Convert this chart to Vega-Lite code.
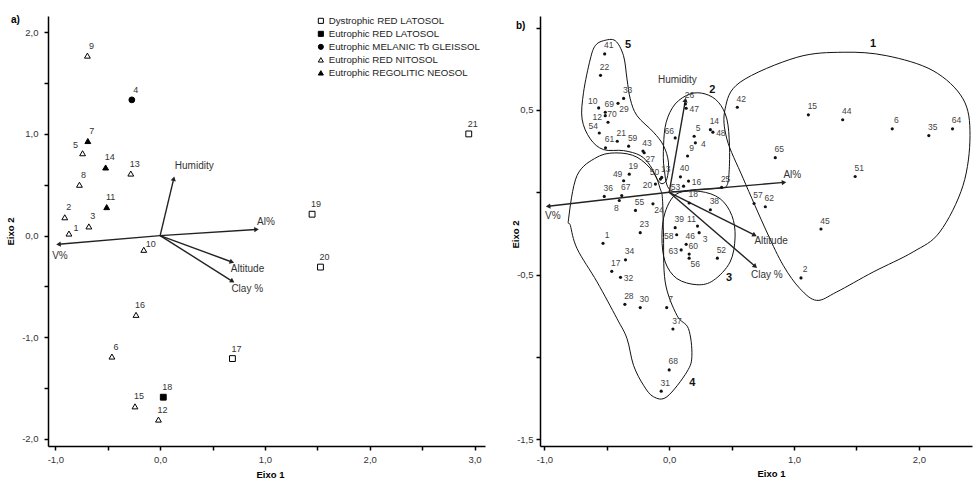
{
  "$schema": "https://vega.github.io/schema/vega-lite/v6.json",
  "background": "white",
  "padding": {"left": 5, "top": 15, "right": 0, "bottom": 0},
  "bounds": "flush",
  "spacing": 55,
  "config": {
    "view": {"stroke": null},
    "axis": {"grid": false, "domainColor": "#000", "domainWidth": 1.5, "tickColor": "#000", "tickWidth": 1.5, "tickSize": 4, "labelFont": "Liberation Sans", "labelFontSize": 9.5, "labelColor": "#333", "labelPadding": 4, "titleFont": "Liberation Sans", "titleFontSize": 9.5, "titleFontWeight": "bold", "titleColor": "#000"}
  },
  "datasets": {
    "left": [
      {"id": 1, "x": -0.87, "y": 0.02, "type": "Eutrophic RED NITOSOL"},
      {"id": 2, "x": -0.91, "y": 0.18, "type": "Eutrophic RED NITOSOL"},
      {"id": 3, "x": -0.68, "y": 0.09, "type": "Eutrophic RED NITOSOL"},
      {"id": 4, "x": -0.27, "y": 1.335, "type": "Eutrophic MELANIC Tb GLEISSOL"},
      {"id": 5, "x": -0.74, "y": 0.81, "type": "Eutrophic RED NITOSOL"},
      {"id": 6, "x": -0.46, "y": -1.19, "type": "Eutrophic RED NITOSOL"},
      {"id": 7, "x": -0.69, "y": 0.93, "type": "Eutrophic REGOLITIC NEOSOL"},
      {"id": 8, "x": -0.77, "y": 0.5, "type": "Eutrophic RED NITOSOL"},
      {"id": 9, "x": -0.694, "y": 1.77, "type": "Eutrophic RED NITOSOL"},
      {"id": 10, "x": -0.156, "y": -0.14, "type": "Eutrophic RED NITOSOL"},
      {"id": 11, "x": -0.51, "y": 0.28, "type": "Eutrophic REGOLITIC NEOSOL"},
      {"id": 12, "x": -0.016, "y": -1.81, "type": "Eutrophic RED NITOSOL"},
      {"id": 13, "x": -0.28, "y": 0.61, "type": "Eutrophic RED NITOSOL"},
      {"id": 14, "x": -0.52, "y": 0.67, "type": "Eutrophic REGOLITIC NEOSOL"},
      {"id": 15, "x": -0.24, "y": -1.68, "type": "Eutrophic RED NITOSOL"},
      {"id": 16, "x": -0.23, "y": -0.78, "type": "Eutrophic RED NITOSOL"},
      {"id": 17, "x": 0.69, "y": -1.21, "type": "Dystrophic RED LATOSOL"},
      {"id": 18, "x": 0.03, "y": -1.59, "type": "Eutrophic RED LATOSOL"},
      {"id": 19, "x": 1.45, "y": 0.21, "type": "Dystrophic RED LATOSOL"},
      {"id": 20, "x": 1.53, "y": -0.31, "type": "Dystrophic RED LATOSOL"},
      {"id": 21, "x": 2.945, "y": 1.0, "type": "Dystrophic RED LATOSOL"}
    ],
    "right": [
      {"id": 1, "x": -0.53, "y": -0.31}, {"id": 2, "x": 1.056, "y": -0.52}, {"id": 3, "x": 0.24, "y": -0.245},
      {"id": 4, "x": 0.21, "y": 0.3}, {"id": 5, "x": 0.2, "y": 0.34}, {"id": 6, "x": 1.787, "y": 0.385},
      {"id": 7, "x": -0.02, "y": -0.7}, {"id": 8, "x": -0.4, "y": -0.05}, {"id": 9, "x": 0.147, "y": 0.22},
      {"id": 10, "x": -0.565, "y": 0.512}, {"id": 11, "x": 0.227, "y": -0.205}, {"id": 12, "x": -0.512, "y": 0.465},
      {"id": 13, "x": -0.06, "y": 0.09}, {"id": 14, "x": 0.33, "y": 0.38}, {"id": 15, "x": 1.115, "y": 0.47},
      {"id": 16, "x": 0.155, "y": 0.068}, {"id": 17, "x": -0.46, "y": -0.48}, {"id": 18, "x": 0.16, "y": -0.065},
      {"id": 19, "x": -0.32, "y": 0.11}, {"id": 20, "x": -0.11, "y": 0.05}, {"id": 21, "x": -0.416, "y": 0.31},
      {"id": 22, "x": -0.55, "y": 0.71}, {"id": 23, "x": -0.232, "y": -0.245}, {"id": 24, "x": -0.13, "y": -0.07},
      {"id": 25, "x": 0.42, "y": 0.03}, {"id": 26, "x": 0.13, "y": 0.536}, {"id": 27, "x": -0.2, "y": 0.24},
      {"id": 28, "x": -0.355, "y": -0.68}, {"id": 29, "x": -0.41, "y": 0.54}, {"id": 30, "x": -0.232, "y": -0.7},
      {"id": 31, "x": -0.064, "y": -1.207}, {"id": 32, "x": -0.39, "y": -0.516}, {"id": 33, "x": -0.365, "y": 0.57},
      {"id": 34, "x": -0.35, "y": -0.41}, {"id": 35, "x": 2.08, "y": 0.344}, {"id": 36, "x": -0.52, "y": -0.025},
      {"id": 37, "x": 0.03, "y": -0.83}, {"id": 38, "x": 0.33, "y": -0.106}, {"id": 39, "x": 0.048, "y": -0.215},
      {"id": 40, "x": 0.09, "y": 0.094}, {"id": 41, "x": -0.517, "y": 0.84}, {"id": 42, "x": 0.546, "y": 0.516},
      {"id": 43, "x": -0.21, "y": 0.25}, {"id": 44, "x": 1.39, "y": 0.44}, {"id": 45, "x": 1.216, "y": -0.223},
      {"id": 46, "x": 0.136, "y": -0.316}, {"id": 47, "x": 0.136, "y": 0.51}, {"id": 48, "x": 0.35, "y": 0.365},
      {"id": 49, "x": -0.365, "y": 0.07}, {"id": 50, "x": -0.07, "y": 0.08}, {"id": 51, "x": 1.49, "y": 0.096},
      {"id": 52, "x": 0.386, "y": -0.4}, {"id": 53, "x": 0.115, "y": 0.037}, {"id": 54, "x": -0.56, "y": 0.36},
      {"id": 55, "x": -0.27, "y": -0.11}, {"id": 56, "x": 0.16, "y": -0.4}, {"id": 57, "x": 0.68, "y": -0.068},
      {"id": 58, "x": 0.06, "y": -0.258}, {"id": 59, "x": -0.325, "y": 0.28}, {"id": 60, "x": 0.16, "y": -0.375},
      {"id": 61, "x": -0.51, "y": 0.27}, {"id": 62, "x": 0.77, "y": -0.088}, {"id": 63, "x": 0.096, "y": -0.35},
      {"id": 64, "x": 2.27, "y": 0.385}, {"id": 65, "x": 0.85, "y": 0.21}, {"id": 66, "x": 0.048, "y": 0.33},
      {"id": 67, "x": -0.38, "y": -0.02}, {"id": 68, "x": 0.0, "y": -1.078}, {"id": 69, "x": -0.512, "y": 0.486},
      {"id": 70, "x": -0.49, "y": 0.425}
    ],
    "arrows": [
      {"lab": "Humidity", "x": 0.13, "y": 0.56},
      {"lab": "Al%", "x": 0.92, "y": 0.06},
      {"lab": "V%", "x": -0.97, "y": -0.085},
      {"lab": "Altitude", "x": 0.685, "y": -0.26},
      {"lab": "Clay %", "x": 0.69, "y": -0.45}
    ],
    "arrowlabL": [
      {"lab": "Humidity", "x": 0.14, "y": 0.68},
      {"lab": "Al%", "x": 0.925, "y": 0.136},
      {"lab": "V%", "x": -1.03, "y": -0.2},
      {"lab": "Altitude", "x": 0.675, "y": -0.33},
      {"lab": "Clay %", "x": 0.68, "y": -0.53}
    ],
    "arrowlabR": [
      {"lab": "Humidity", "x": -0.09, "y": 0.684},
      {"lab": "Al%", "x": 0.915, "y": 0.102},
      {"lab": "V%", "x": -0.994, "y": -0.144},
      {"lab": "Altitude", "x": 0.683, "y": -0.296},
      {"lab": "Clay %", "x": 0.656, "y": -0.5}
    ],
    "clusters": [
      {"cluster": 1, "ord": 1, "x": 0.448, "y": 0.506},
      {"cluster": 1, "ord": 2, "x": 0.568, "y": 0.668},
      {"cluster": 1, "ord": 3, "x": 1.022, "y": 0.819},
      {"cluster": 1, "ord": 4, "x": 1.394, "y": 0.85},
      {"cluster": 1, "ord": 5, "x": 1.742, "y": 0.829},
      {"cluster": 1, "ord": 6, "x": 2.114, "y": 0.738},
      {"cluster": 1, "ord": 7, "x": 2.354, "y": 0.567},
      {"cluster": 1, "ord": 8, "x": 2.41, "y": 0.344},
      {"cluster": 1, "ord": 9, "x": 2.354, "y": 0.041},
      {"cluster": 1, "ord": 10, "x": 2.168, "y": -0.241},
      {"cluster": 1, "ord": 11, "x": 1.954, "y": -0.362},
      {"cluster": 1, "ord": 12, "x": 1.634, "y": -0.484},
      {"cluster": 1, "ord": 13, "x": 1.342, "y": -0.605},
      {"cluster": 1, "ord": 14, "x": 1.182, "y": -0.656},
      {"cluster": 1, "ord": 15, "x": 1.048, "y": -0.585},
      {"cluster": 1, "ord": 16, "x": 0.914, "y": -0.444},
      {"cluster": 1, "ord": 17, "x": 0.782, "y": -0.241},
      {"cluster": 1, "ord": 18, "x": 0.594, "y": 0.082},
      {"cluster": 1, "ord": 19, "x": 0.462, "y": 0.324},
      {"cluster": 2, "ord": 1, "x": 0.013, "y": 0.011},
      {"cluster": 2, "ord": 2, "x": -0.04, "y": 0.142},
      {"cluster": 2, "ord": 3, "x": -0.045, "y": 0.284},
      {"cluster": 2, "ord": 4, "x": -0.024, "y": 0.425},
      {"cluster": 2, "ord": 5, "x": 0.048, "y": 0.536},
      {"cluster": 2, "ord": 6, "x": 0.168, "y": 0.597},
      {"cluster": 2, "ord": 7, "x": 0.288, "y": 0.597},
      {"cluster": 2, "ord": 8, "x": 0.394, "y": 0.547},
      {"cluster": 2, "ord": 9, "x": 0.462, "y": 0.445},
      {"cluster": 2, "ord": 10, "x": 0.483, "y": 0.284},
      {"cluster": 2, "ord": 11, "x": 0.48, "y": 0.122},
      {"cluster": 2, "ord": 12, "x": 0.462, "y": 0.041},
      {"cluster": 2, "ord": 13, "x": 0.408, "y": 0.025},
      {"cluster": 2, "ord": 14, "x": 0.221, "y": 0.017},
      {"cluster": 3, "ord": 1, "x": 0.062, "y": -0.009},
      {"cluster": 3, "ord": 2, "x": 0.248, "y": 0.005},
      {"cluster": 3, "ord": 3, "x": 0.408, "y": -0.039},
      {"cluster": 3, "ord": 4, "x": 0.502, "y": -0.141},
      {"cluster": 3, "ord": 5, "x": 0.528, "y": -0.272},
      {"cluster": 3, "ord": 6, "x": 0.488, "y": -0.423},
      {"cluster": 3, "ord": 7, "x": 0.354, "y": -0.535},
      {"cluster": 3, "ord": 8, "x": 0.222, "y": -0.561},
      {"cluster": 3, "ord": 9, "x": 0.062, "y": -0.524},
      {"cluster": 3, "ord": 10, "x": -0.032, "y": -0.423},
      {"cluster": 3, "ord": 11, "x": -0.058, "y": -0.272},
      {"cluster": 3, "ord": 12, "x": -0.032, "y": -0.12},
      {"cluster": 4, "ord": 1, "x": -0.806, "y": -0.161},
      {"cluster": 4, "ord": 2, "x": -0.738, "y": 0.102},
      {"cluster": 4, "ord": 3, "x": -0.578, "y": 0.213},
      {"cluster": 4, "ord": 4, "x": -0.418, "y": 0.239},
      {"cluster": 4, "ord": 5, "x": -0.258, "y": 0.213},
      {"cluster": 4, "ord": 6, "x": -0.126, "y": 0.122},
      {"cluster": 4, "ord": 7, "x": -0.072, "y": 0.021},
      {"cluster": 4, "ord": 8, "x": -0.054, "y": -0.039},
      {"cluster": 4, "ord": 9, "x": -0.046, "y": -0.241},
      {"cluster": 4, "ord": 10, "x": -0.032, "y": -0.544},
      {"cluster": 4, "ord": 11, "x": 0.062, "y": -0.747},
      {"cluster": 4, "ord": 12, "x": 0.154, "y": -0.827},
      {"cluster": 4, "ord": 13, "x": 0.182, "y": -0.989},
      {"cluster": 4, "ord": 14, "x": 0.142, "y": -1.09},
      {"cluster": 4, "ord": 15, "x": -0.018, "y": -1.241},
      {"cluster": 4, "ord": 16, "x": -0.126, "y": -1.241},
      {"cluster": 4, "ord": 17, "x": -0.206, "y": -1.171},
      {"cluster": 4, "ord": 18, "x": -0.286, "y": -1.05},
      {"cluster": 4, "ord": 19, "x": -0.338, "y": -0.888},
      {"cluster": 4, "ord": 20, "x": -0.418, "y": -0.767},
      {"cluster": 4, "ord": 21, "x": -0.578, "y": -0.544},
      {"cluster": 4, "ord": 22, "x": -0.738, "y": -0.342},
      {"cluster": 4, "ord": 23, "x": -0.792, "y": -0.201},
      {"cluster": 5, "ord": 1, "x": -0.526, "y": 0.92},
      {"cluster": 5, "ord": 2, "x": -0.432, "y": 0.92},
      {"cluster": 5, "ord": 3, "x": -0.366, "y": 0.829},
      {"cluster": 5, "ord": 4, "x": -0.338, "y": 0.688},
      {"cluster": 5, "ord": 5, "x": -0.312, "y": 0.567},
      {"cluster": 5, "ord": 6, "x": -0.258, "y": 0.465},
      {"cluster": 5, "ord": 7, "x": -0.126, "y": 0.365},
      {"cluster": 5, "ord": 8, "x": -0.046, "y": 0.284},
      {"cluster": 5, "ord": 9, "x": -0.006, "y": 0.183},
      {"cluster": 5, "ord": 10, "x": -0.018, "y": 0.082},
      {"cluster": 5, "ord": 11, "x": -0.058, "y": 0.052},
      {"cluster": 5, "ord": 12, "x": -0.098, "y": 0.082},
      {"cluster": 5, "ord": 13, "x": -0.152, "y": 0.162},
      {"cluster": 5, "ord": 14, "x": -0.232, "y": 0.223},
      {"cluster": 5, "ord": 15, "x": -0.366, "y": 0.253},
      {"cluster": 5, "ord": 16, "x": -0.526, "y": 0.259},
      {"cluster": 5, "ord": 17, "x": -0.632, "y": 0.324},
      {"cluster": 5, "ord": 18, "x": -0.698, "y": 0.445},
      {"cluster": 5, "ord": 19, "x": -0.686, "y": 0.607},
      {"cluster": 5, "ord": 20, "x": -0.632, "y": 0.809},
      {"cluster": 5, "ord": 21, "x": -0.592, "y": 0.89}
    ],
    "clusterlabels": [
      {"lab": "1", "x": 1.634, "y": 0.9},
      {"lab": "2", "x": 0.346, "y": 0.62},
      {"lab": "3", "x": 0.48, "y": -0.52},
      {"lab": "4", "x": 0.186, "y": -1.16},
      {"lab": "5", "x": -0.33, "y": 0.896}
    ]
  },
  "hconcat": [
    {
      "width": 437,
      "height": 430,
      "title": {"text": "a)", "anchor": "start", "frame": "bounds", "fontSize": 10, "fontWeight": "bold", "font": "Liberation Sans", "color": "#000", "dx": 6, "dy": 9, "offset": 0},
      "encoding": {
        "x": {"field": "x", "type": "quantitative", "scale": {"domain": [-1.07, 3.1], "nice": false, "zero": false},
          "axis": {"title": "Eixo 1", "values": [-1, -0.5, 0, 0.5, 1, 1.5, 2, 2.5, 3], "labelExpr": "datum.value % 1 == 0 ? replace(replace(format(datum.value, '.1f'), '.', ','), '−', '-') : ''", "titleX": 222, "titleY": 28, "titleBaseline": "middle", "titleAlign": "center"}},
        "y": {"field": "y", "type": "quantitative", "scale": {"domain": [-2.07, 2.16], "nice": false, "zero": false},
          "axis": {"title": "Eixo 2", "values": [-2, -1.5, -1, -0.5, 0, 0.5, 1, 1.5, 2], "labelExpr": "datum.value % 1 == 0 ? replace(replace(format(datum.value, '.1f'), '.', ','), '−', '-') : ''", "titleX": -38, "titleY": 215, "titleAngle": -90, "titleAlign": "center", "titleBaseline": "middle", "labelPadding": 6}}
      },
      "layer": [
        {"data": {"name": "arrows"}, "mark": {"type": "rule", "color": "#222", "strokeWidth": 1.4}, "encoding": {"x2": {"datum": 0}, "y2": {"datum": 0}}},
        {"data": {"name": "arrows"}, "transform": [{"calculate": "atan2(datum.x*104.8, datum.y*101.7)*180/PI", "as": "ang"}],
          "mark": {"type": "point", "shape": "triangle-up", "filled": true, "size": 28, "color": "#222", "opacity": 1},
          "encoding": {"angle": {"field": "ang", "type": "quantitative", "scale": null}}},
        {"data": {"name": "arrowlabL"}, "mark": {"type": "text", "align": "left", "baseline": "middle", "fontSize": 10, "font": "Liberation Sans", "color": "#333"}, "encoding": {"text": {"field": "lab", "type": "nominal"}}},
        {"data": {"name": "left"}, "mark": {"type": "point", "stroke": "black", "strokeWidth": 1, "size": 34, "fillOpacity": 1, "opacity": 1},
          "encoding": {
            "shape": {"field": "type", "type": "nominal", "scale": {"domain": ["Dystrophic RED LATOSOL", "Eutrophic RED LATOSOL", "Eutrophic MELANIC Tb GLEISSOL", "Eutrophic RED NITOSOL", "Eutrophic REGOLITIC NEOSOL"], "range": ["square", "square", "circle", "triangle-up", "triangle-up"]},
              "legend": {"orient": "none", "legendX": 268, "legendY": 0, "title": null, "labelFont": "Liberation Sans", "labelFontSize": 9.7, "labelColor": "#222", "symbolStrokeColor": "black", "symbolStrokeWidth": 1, "symbolSize": 26, "rowPadding": 2, "labelOffset": 3,
                "symbolOpacity": 1, "symbolFillColor": "white",
                "encode": {"symbols": {"update": {"stroke": {"value": "black"}, "strokeWidth": {"value": 1}, "opacity": {"value": 1}}}}}},
            "fill": {"field": "type", "type": "nominal", "scale": {"domain": ["Dystrophic RED LATOSOL", "Eutrophic RED LATOSOL", "Eutrophic MELANIC Tb GLEISSOL", "Eutrophic RED NITOSOL", "Eutrophic REGOLITIC NEOSOL"], "range": ["white", "black", "black", "white", "black"]},
              "legend": {"orient": "none", "legendX": 268, "legendY": 0, "title": null, "labelFont": "Liberation Sans", "labelFontSize": 9.7, "labelColor": "#222", "symbolStrokeColor": "black", "symbolStrokeWidth": 1, "symbolSize": 26, "rowPadding": 2, "labelOffset": 3,
                "symbolOpacity": 1,
                "encode": {"symbols": {"update": {"stroke": {"value": "black"}, "strokeWidth": {"value": 1}, "opacity": {"value": 1}}}}}}
          }},
        {"data": {"name": "left"}, "transform": [{"filter": {"not": {"field": "id", "oneOf": [1, 5, 10]}}}],
          "mark": {"type": "text", "align": "center", "baseline": "middle", "fontSize": 9, "font": "Liberation Sans", "color": "#333", "dx": 4, "dy": -10},
          "encoding": {"text": {"field": "id", "type": "nominal"}}},
        {"data": {"name": "left"}, "transform": [{"filter": {"field": "id", "oneOf": [5]}}],
          "mark": {"type": "text", "align": "center", "baseline": "middle", "fontSize": 9, "font": "Liberation Sans", "color": "#333", "dx": -7, "dy": -8},
          "encoding": {"text": {"field": "id", "type": "nominal"}}},
        {"data": {"name": "left"}, "transform": [{"filter": {"field": "id", "oneOf": [1, 10]}}],
          "mark": {"type": "text", "align": "center", "baseline": "middle", "fontSize": 9, "font": "Liberation Sans", "color": "#333", "dx": 7, "dy": -6},
          "encoding": {"text": {"field": "id", "type": "nominal"}}}
      ]
    },
    {
      "width": 432,
      "height": 430,
      "title": {"text": "b)", "anchor": "start", "frame": "bounds", "fontSize": 10, "fontWeight": "bold", "font": "Liberation Sans", "color": "#000", "dx": 6, "dy": 15, "offset": 0},
      "encoding": {
        "x": {"field": "x", "type": "quantitative", "scale": {"domain": [-1.035, 2.426], "nice": false, "zero": false},
          "axis": {"title": "Eixo 1", "values": [-1, -0.5, 0, 0.5, 1, 1.5, 2], "labelExpr": "datum.value % 1 == 0 ? replace(replace(format(datum.value, '.1f'), '.', ','), '−', '-') : ''", "titleX": 231, "titleY": 27, "titleBaseline": "middle", "titleAlign": "center"}},
        "y": {"field": "y", "type": "quantitative", "scale": {"domain": [-1.54, 1.07], "nice": false, "zero": false},
          "axis": {"title": "Eixo 2", "values": [1, 0.5, 0, -0.5, -1, -1.5], "labelExpr": "indexof([0.5, -0.5, -1.5], datum.value) >= 0 ? replace(replace(format(datum.value, '.1f'), '.', ','), '−', '-') : ''", "titleX": -25, "titleY": 218, "titleAngle": -90, "titleAlign": "center", "titleBaseline": "middle", "labelPadding": 3}}
      },
      "layer": [
        {"data": {"name": "clusters"}, "mark": {"type": "line", "interpolate": "cardinal-closed", "color": "#111", "strokeWidth": 1},
          "encoding": {"detail": {"field": "cluster", "type": "nominal"}, "order": {"field": "ord", "type": "quantitative"}}},
        {"data": {"name": "arrows"}, "mark": {"type": "rule", "color": "#222", "strokeWidth": 1.4}, "encoding": {"x2": {"datum": 0}, "y2": {"datum": 0}}},
        {"data": {"name": "arrows"}, "transform": [{"calculate": "atan2(datum.x*124.8, datum.y*164.8)*180/PI", "as": "ang"}],
          "mark": {"type": "point", "shape": "triangle-up", "filled": true, "size": 28, "color": "#222", "opacity": 1},
          "encoding": {"angle": {"field": "ang", "type": "quantitative", "scale": null}}},
        {"data": {"name": "arrowlabR"}, "mark": {"type": "text", "align": "left", "baseline": "middle", "fontSize": 10, "font": "Liberation Sans", "color": "#333"}, "encoding": {"text": {"field": "lab", "type": "nominal"}}},
        {"data": {"name": "right"}, "mark": {"type": "point", "filled": true, "size": 10, "color": "#111", "opacity": 1}},
        {"data": {"name": "right"}, "transform": [{"filter": {"not": {"field": "id", "oneOf": [10, 49, 66, 11, 50, 54, 12, 20, 53, 58, 63, 47, 48, 16, 32, 4, 29, 27, 24, 3, 56, 8]}}}],
          "mark": {"type": "text", "align": "center", "baseline": "middle", "fontSize": 8.5, "font": "Liberation Sans", "color": "#444", "dx": 4, "dy": -8.5},
          "encoding": {"text": {"field": "id", "type": "nominal"}}},
        {"data": {"name": "right"}, "transform": [{"filter": {"field": "id", "oneOf": [10, 49, 66, 11, 50, 54]}}],
          "mark": {"type": "text", "align": "center", "baseline": "middle", "fontSize": 8.5, "font": "Liberation Sans", "color": "#444", "dx": -6, "dy": -7},
          "encoding": {"text": {"field": "id", "type": "nominal"}}},
        {"data": {"name": "right"}, "transform": [{"filter": {"field": "id", "oneOf": [12, 20, 53, 58, 63]}}],
          "mark": {"type": "text", "align": "center", "baseline": "middle", "fontSize": 8.5, "font": "Liberation Sans", "color": "#444", "dx": -8, "dy": 1},
          "encoding": {"text": {"field": "id", "type": "nominal"}}},
        {"data": {"name": "right"}, "transform": [{"filter": {"field": "id", "oneOf": [47, 48, 16, 32, 4]}}],
          "mark": {"type": "text", "align": "center", "baseline": "middle", "fontSize": 8.5, "font": "Liberation Sans", "color": "#444", "dx": 8, "dy": 1},
          "encoding": {"text": {"field": "id", "type": "nominal"}}},
        {"data": {"name": "right"}, "transform": [{"filter": {"field": "id", "oneOf": [29, 27, 24, 3, 56]}}],
          "mark": {"type": "text", "align": "center", "baseline": "middle", "fontSize": 8.5, "font": "Liberation Sans", "color": "#444", "dx": 6, "dy": 6},
          "encoding": {"text": {"field": "id", "type": "nominal"}}},
        {"data": {"name": "right"}, "transform": [{"filter": {"field": "id", "oneOf": [8]}}],
          "mark": {"type": "text", "align": "center", "baseline": "middle", "fontSize": 8.5, "font": "Liberation Sans", "color": "#444", "dx": -3, "dy": 7},
          "encoding": {"text": {"field": "id", "type": "nominal"}}},
        {"data": {"name": "clusterlabels"}, "mark": {"type": "text", "align": "center", "baseline": "middle", "fontSize": 11, "fontWeight": "bold", "font": "Liberation Sans", "color": "#111"},
          "encoding": {"text": {"field": "lab", "type": "nominal"}}}
      ]
    }
  ]
}
